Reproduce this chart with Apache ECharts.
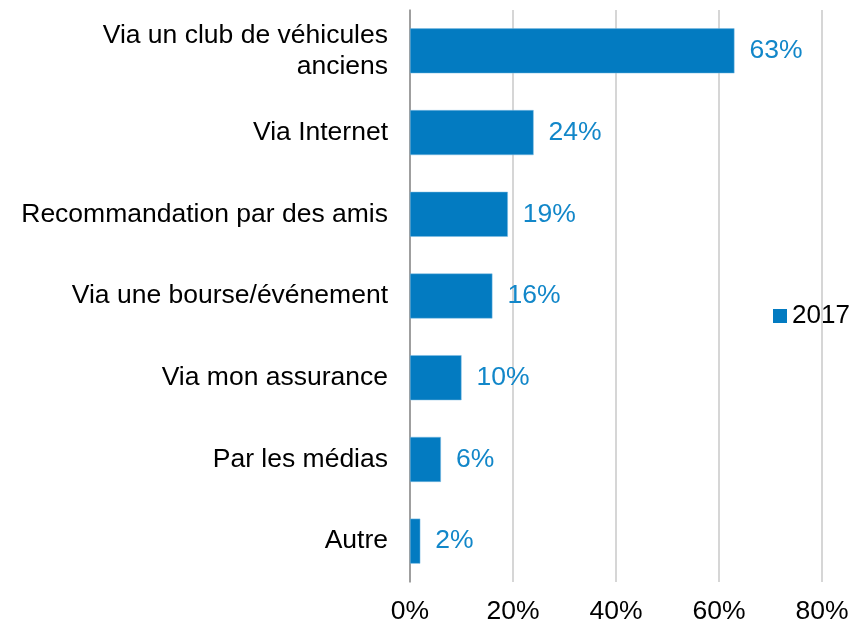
<!DOCTYPE html>
<html>
<head>
<meta charset="utf-8">
<script src="https://cdn.jsdelivr.net/npm/echarts@6/dist/echarts.min.js"></script>
<style>
  html, body { margin: 0; padding: 0; background: #fff; }
  #chart { width: 863px; height: 626px; }
</style>
</head>
<body>
<div id="chart"></div>
<script>
// categories, top to bottom
const categories = [
  "Via un club de véhicules\nanciens",
  "Via Internet",
  "Recommandation par des amis",
  "Via une bourse/événement",
  "Via mon assurance",
  "Par les médias",
  "Autre"
];
const values2017 = [63, 24, 19, 16, 10, 6, 2];
const xTicks = [0, 20, 40, 60, 80];

const chart = echarts.init(document.getElementById("chart"));
chart.setOption({
  animation: false,
  textStyle: { fontFamily: "Liberation Sans, Arial, sans-serif" },
  grid: { left: 410, right: 41, top: 10, bottom: 44 },
  legend: {
    data: ["2017"],
    orient: "vertical",
    left: 768,
    top: 298,
    itemWidth: 14,
    itemHeight: 14,
    icon: "rect",
    itemStyle: { borderWidth: 0 },
    textStyle: { fontSize: 26, color: "#000" }
  },
  xAxis: {
    type: "value",
    min: xTicks[0],
    max: xTicks[xTicks.length - 1],
    interval: 20,
    axisLine: { show: false },
    axisTick: { show: false },
    splitLine: { lineStyle: { color: "#c8c8c8", width: 1.5 } },
    axisLabel: {
      fontSize: 26.5,
      color: "#000",
      margin: 16,
      formatter: function (v) { return v + "%"; }
    }
  },
  yAxis: {
    type: "category",
    inverse: true,
    data: categories,
    axisLine: { show: true, lineStyle: { color: "#8c8c8c", width: 1.5 } },
    axisTick: { show: false },
    axisLabel: {
      fontSize: 26.5,
      color: "#000",
      margin: 22,
      lineHeight: 31,
      align: "right",
      padding: [3, 0, 0, 0]
    }
  },
  series: [
    {
      name: "2017",
      type: "bar",
      data: values2017,
      barWidth: 45,
      itemStyle: { color: "#037BC1", borderColor: "#7fbde3", borderWidth: 0.5 },
      label: {
        show: true,
        position: "right",
        distance: 15,
        fontSize: 26.5,
        color: "#1287C9",
        formatter: function (p) { return p.value + "%"; }
      }
    }
  ]
});
</script>
</body>
</html>
